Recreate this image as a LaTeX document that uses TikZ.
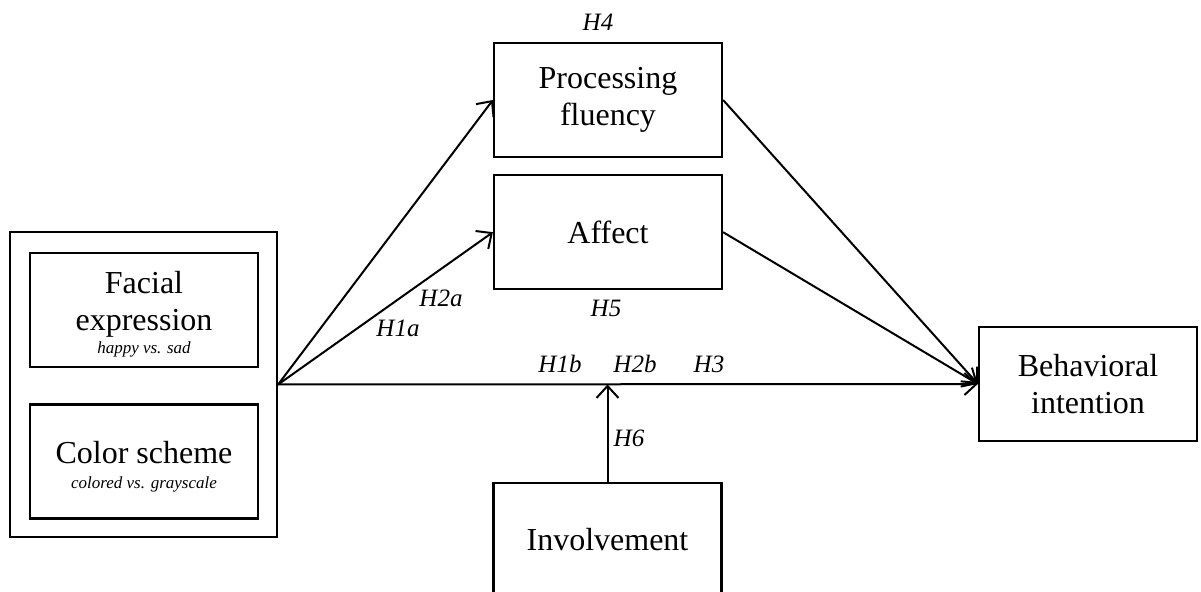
\documentclass[tikz,border=0pt]{standalone}
\usepackage{fontspec}
\setmainfont{Liberation Serif}
\usetikzlibrary{arrows.meta,positioning}

\newcommand{\cond}[1]{{\fontsize{8.5}{10}\selectfont\itshape #1}}

\begin{document}
\begin{tikzpicture}[
    x=0.5pt, y=-0.5pt,
    node distance=8pt and 10pt,
    box/.style={rectangle, draw, line width=1.1pt, minimum width=114pt, minimum height=57pt,
                align=center, font=\fontsize{16}{18.5}\selectfont, inner sep=1pt},
    hyp/.style={font=\fontsize{12.5}{14}\selectfont\itshape, inner sep=0pt},
    arrow/.style={-{Straight Barb[length=6pt, width=11pt, line width=1pt]}, line width=1pt}
  ]
  \useasboundingbox (0,0) rectangle (1201,592);
  \clip (0,0) rectangle (1201,592);

  % --- manipulated factors ---
  \node[box, minimum width=133.5pt, minimum height=152.5pt] (factors) at (143.5,384.5) {};
  \node[box] (facial) at (144,310) {\rule{0pt}{15pt}Facial\\expression\\[-7pt]\cond{happy vs. sad}};
  \node[box] (color) at (144,461.5) {\rule{0pt}{16pt}Color scheme\\[-6pt]\cond{colored vs. grayscale}};

  % --- mediators ---
  \node[box] (pf) at (608,100) {Processing\\fluency};
  \node[box, below=8pt of pf] (affect) {Affect};

  % --- outcome and moderator ---
  \node[box, minimum width=109pt] (bi) at (1088,384) {Behavioral\\intention};
  \node[box] (inv) at (607.5,540) {Involvement};

  % paths
  \draw[arrow] (factors.east) -- (pf.west);
  \draw[arrow] (factors.east) -- (affect.west);
  \draw[arrow] (factors.east) -- (bi.west);
  \draw[arrow] (pf.east) -- (bi.west);
  \draw[arrow] (affect.east) -- (bi.west);
  \draw[arrow] (inv.north) -- (inv |- factors.east);

  % hypotheses
  \node[hyp] (h4) at (598,22) {H4};
  \node[hyp] (h5) at (606,308) {H5};
  \node[hyp] (h1a) at (398,328) {H1a};
  \node[hyp] (h2a) at (441,298) {H2a};
  \node[hyp] (h1b) at (560,364) {H1b};
  \node[hyp] (h2b) at (635,364) {H2b};
  \node[hyp] (h3) at (709,364) {H3};
  \node[hyp] (h6) at (629,438) {H6};
\end{tikzpicture}
\end{document}
